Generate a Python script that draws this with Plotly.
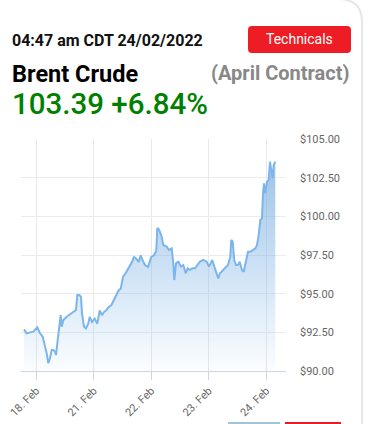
import plotly.graph_objects as go

# ---------------- data ----------------
# position in trading days since 18 Feb 00:00 (weekend skipped), and price in USD
day_pos = [-0.214, -0.167, -0.122, -0.052, 0.017, 0.064, 0.111, 0.151, 0.181, 0.209,
           0.238, 0.268, 0.296, 0.325, 0.343, 0.372, 0.400, 0.424, 0.442, 0.470,
           0.529, 0.574, 0.616, 0.656, 0.690, 0.713, 0.748, 0.777, 0.795, 0.830,
           0.864, 0.904, 0.929, 0.969, 1.016, 1.061, 1.103, 1.143, 1.177, 1.217,
           1.259, 1.304, 1.351, 1.391, 1.433, 1.468, 1.508, 1.548, 1.583, 1.624,
           1.664, 1.699, 1.739, 1.781, 1.816, 1.856, 1.896, 1.943, 1.977, 2.000,
           2.047, 2.087, 2.104, 2.122, 2.151, 2.181, 2.209, 2.268, 2.308, 2.355,
           2.383, 2.400, 2.430, 2.470, 2.517, 2.557, 2.598, 2.633, 2.673, 2.713,
           2.760, 2.807, 2.847, 2.904, 2.963, 3.003, 3.061, 3.096, 3.137, 3.165,
           3.195, 3.252, 3.287, 3.334, 3.374, 3.391, 3.416, 3.443, 3.473, 3.508,
           3.537, 3.577, 3.607, 3.635, 3.682, 3.722, 3.763, 3.809, 3.838, 3.868,
           3.896, 3.925, 3.943, 3.960, 3.983, 4.012, 4.042, 4.064, 4.087, 4.111,
           4.129, 4.157]
price = [92.69, 92.44, 92.48, 92.54, 92.82, 92.44, 92.22, 91.68, 91.14, 90.50,
         90.82, 91.36, 91.36, 91.25, 91.03, 92.00, 93.08, 93.62, 92.86, 93.30,
         93.51, 93.62, 93.73, 93.83, 93.94, 94.91, 94.91, 94.80, 93.73, 92.86,
         92.76, 93.08, 93.49, 93.17, 93.38, 93.06, 93.92, 93.60, 93.81, 93.92,
         94.14, 94.25, 94.57, 94.89, 95.22, 95.32, 96.08, 96.29, 96.51, 96.83,
         97.05, 97.37, 97.26, 97.05, 97.48, 97.09, 96.83, 96.72, 97.05, 97.37,
         97.48, 97.80, 99.20, 99.22, 99.00, 98.68, 98.14, 98.04, 97.82, 97.93,
         96.96, 95.88, 96.96, 97.07, 96.75, 96.85, 96.32, 96.64, 96.53, 96.64,
         96.64, 96.85, 97.07, 97.18, 97.07, 96.75, 97.18, 96.75, 96.21, 95.99,
         96.32, 96.53, 96.64, 96.85, 97.39, 98.47, 98.36, 97.18, 96.85, 96.85,
         97.07, 96.53, 96.42, 96.85, 97.71, 97.71, 97.82, 97.93, 98.14, 98.79,
         99.76, 99.87, 101.49, 102.13, 101.49, 102.24, 102.35, 103.53, 103.00, 102.46,
         103.32, 103.53]

tick_pos = [0, 1, 2, 3, 4]
tick_labels = ["18. Feb", "21. Feb", "22. Feb", "23. Feb", "24. Feb"]
y_ticks = [90, 92.5, 95, 97.5, 100, 102.5, 105]
y_labels = ["$90.00", "$92.50", "$95.00", "$97.50", "$100.00", "$102.50", "$105.00"]

# ---------------- layout helpers ----------------
W, H = 369, 424
L, R, T, B = 21, 286, 139, 371          # plot area in window pixels


def px(x):
    return (x - L) / (R - L)


def py(y):
    return (B - y) / (B - T)


def rounded_rect(x0, y0, x1, y1, r):
    pts = [
        ("M", [(x0 + r, y0)]), ("L", [(x1 - r, y0)]), ("Q", [(x1, y0), (x1, y0 + r)]),
        ("L", [(x1, y1 - r)]), ("Q", [(x1, y1), (x1 - r, y1)]), ("L", [(x0 + r, y1)]),
        ("Q", [(x0, y1), (x0, y1 - r)]), ("L", [(x0, y0 + r)]), ("Q", [(x0, y0), (x0 + r, y0)]),
    ]
    s = ""
    for cmd, ps in pts:
        s += cmd + " " + " ".join(f"{px(a):.5f},{py(b):.5f}" for a, b in ps) + " "
    return s + "Z"


FONT = "Roboto, Arial, sans-serif"

fig = go.Figure()
fig.add_trace(go.Scatter(
    x=day_pos, y=price, mode="lines",
    line=dict(color="#7cb5ec", width=2),
    fill="tozeroy",
    fillgradient=dict(type="vertical", start=90, stop=104,
                      colorscale=[[0, "rgba(124,181,236,0.03)"],
                                  [1, "rgba(120,172,220,0.75)"]]),
    hoverinfo="skip",
))

fig.update_layout(
    width=W, height=H,
    margin=dict(l=L, r=W - R, t=T, b=H - B),
    paper_bgcolor="white", plot_bgcolor="white",
    showlegend=False,
    font=dict(family=FONT, color="#666666", size=11),
    xaxis=dict(
        range=[-0.266, 4.343], tickvals=tick_pos, ticktext=tick_labels,
        tickangle=-45, showgrid=True, gridcolor="#e9e9e9", gridwidth=1,
        showline=True, linecolor="#ccd6eb", linewidth=1,
        ticks="outside", ticklen=8, tickcolor="#ccd6eb",
        tickfont=dict(size=11, color="#666666"), zeroline=False,
        automargin=False, ticklabeloverflow="allow",
    ),
    yaxis=dict(
        range=[90, 105], tickvals=y_ticks, ticktext=y_labels, side="right",
        showgrid=True, gridcolor="#ececec", gridwidth=1, zeroline=False,
        ticks="", ticklabelstandoff=13, automargin=False,
        tickfont=dict(size=11, color="#666666"),
    ),
    shapes=[
        dict(type="path", xref="paper", yref="paper", path=rounded_rect(248, 26, 351, 53, 4),
             fillcolor="#ee1c25", line=dict(width=0), layer="above"),
        dict(type="path", xref="paper", yref="paper",
             path=f"M {px(338):.5f},{py(-1):.5f} Q {px(362):.5f},{py(-1):.5f} {px(362):.5f},{py(22):.5f} L {px(362):.5f},{py(430):.5f}",
             line=dict(color="#e6e6e6", width=2)),
        dict(type="rect", xref="paper", yref="paper", x0=px(228), x1=px(280), y0=py(422), y1=py(430),
             fillcolor="#9ec5d8", line=dict(width=0)),
        dict(type="rect", xref="paper", yref="paper", x0=px(285), x1=px(341), y0=py(422), y1=py(430),
             fillcolor="#e81c24", line=dict(width=0)),
    ],
    annotations=[
        dict(text="<b>04:47 am CDT 24/02/2022</b>", xref="paper", yref="paper",
             x=px(10), y=py(40), xanchor="left", yanchor="middle", showarrow=False,
             font=dict(family=FONT, size=16, color="#111111")),
        dict(text="Technicals", xref="paper", yref="paper",
             x=px(299.5), y=py(39.5), xanchor="center", yanchor="middle", showarrow=False,
             font=dict(family=FONT, size=14, color="white")),
        dict(text="<b>Brent Crude</b>", xref="paper", yref="paper",
             x=px(10), y=py(74), xanchor="left", yanchor="middle", showarrow=False,
             font=dict(family=FONT, size=23.5, color="#000000")),
        dict(text="<b>(April Contract)</b>", xref="paper", yref="paper",
             x=px(352), y=py(73), xanchor="right", yanchor="middle", showarrow=False,
             font=dict(family=FONT, size=20, color="#888888")),
        dict(text="103.39 +6.84%", xref="paper", yref="paper",
             x=px(10), y=py(104), xanchor="left", yanchor="middle", showarrow=False,
             font=dict(family=FONT, size=29.5, color="#008000", weight=500)),
    ],
)

# remove the browser's default 8px body margin so the figure fills the window
fig.write_html("out.html", config={"displayModeBar": False},
               post_script="document.body.style.margin='0';")
